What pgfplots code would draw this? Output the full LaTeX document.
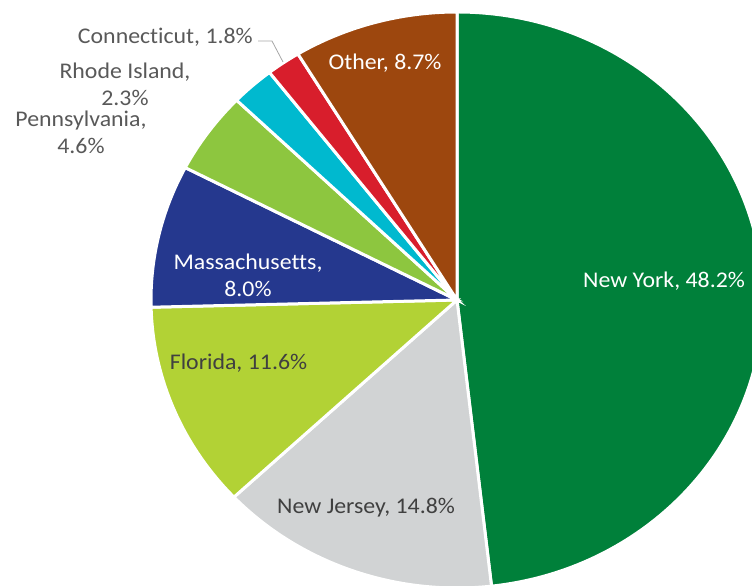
\documentclass[border=0pt]{standalone}
\usepackage{fontspec}
\setmainfont{Carlito}[Ligatures={NoCommon}]
\usepackage{pgfplots}
\usepackage{pgfplotstable}
\pgfplotsset{compat=1.18}

\definecolor{cNY}{HTML}{00803A}
\definecolor{cNJ}{HTML}{D1D3D4}
\definecolor{cFL}{HTML}{B2D235}
\definecolor{cMA}{HTML}{25388E}
\definecolor{cPA}{HTML}{8DC63F}
\definecolor{cRI}{HTML}{00B9CF}
\definecolor{cCT}{HTML}{D81E2C}
\definecolor{cOT}{HTML}{9D470E}
\definecolor{darktxt}{HTML}{404040}
\definecolor{outtxt}{HTML}{595959}

\tikzset{lbl/.style={font=\fontsize{22.5}{27}\selectfont, xscale=1.063, inner sep=0pt, align=center}}

% share of each state, clockwise from 12 o'clock
\pgfplotstableread[col sep=comma]{
name,value,color
New York,48.2,cNY
New Jersey,14.8,cNJ
Florida,11.6,cFL
Massachusetts,8.0,cMA
Pennsylvania,4.6,cPA
Rhode Island,2.3,cRI
Connecticut,1.8,cCT
Other,8.7,cOT
}\piedata

\begin{document}
\begin{tikzpicture}
\begin{axis}[
  x=1bp, y=1bp,
  xmin=0, xmax=752, ymin=0, ymax=586,
  hide axis,
  clip=true,
]
\coordinate (bl) at (rel axis cs:0,0);
\coordinate (tr) at (rel axis cs:1,1);
\xdef\cum{0}
\pgfplotsinvokeforeach{0,...,7}{
  \pgfplotstablegetelem{#1}{value}\of\piedata \let\sliceval=\pgfplotsretval
  \pgfplotstablegetelem{#1}{color}\of\piedata \let\slicecol=\pgfplotsretval
  \pgfmathsetmacro\sa{90-3.6*\cum}
  \pgfmathsetmacro\ea{90-3.6*(\cum+\sliceval)}
  \pgfmathsetmacro\newcum{\cum+\sliceval}
  \xdef\cum{\newcum}
  \edef\temp{\noexpand\filldraw[fill=\slicecol,draw=white,line width=3bp]
    (axis cs:457,286) -- ++(\sa:306bp and 288bp)
    arc[start angle=\sa,end angle=\ea,x radius=306bp,y radius=288bp] -- cycle;}
  \temp
}

\node[lbl, text=white] at (axis cs:664,305) {New York, 48.2\%};
\node[lbl, text=darktxt] at (axis cs:366,78) {New Jersey, 14.8\%};
\node[lbl, text=darktxt] at (axis cs:238.5,223) {Florida, 11.6\%};
\node[lbl, text=white] at (axis cs:248,311) {Massachusetts,\\8.0\%};
\node[lbl, text=white] at (axis cs:385,523) {Other, 8.7\%};
\node[lbl, text=outtxt, anchor=east] at (axis cs:253,549) {Connecticut, 1.8\%};
\node[lbl, text=outtxt] at (axis cs:125,501.5) {Rhode Island,\\2.3\%};
\node[lbl, text=outtxt] at (axis cs:81,453.5) {Pennsylvania,\\4.6\%};
\draw[black!35, line width=0.8bp] (axis cs:258,545) -- (axis cs:272,545) -- (axis cs:283,524);
\end{axis}
\pgfresetboundingbox
\path[use as bounding box] (bl) rectangle (tr);
\end{tikzpicture}
\end{document}
